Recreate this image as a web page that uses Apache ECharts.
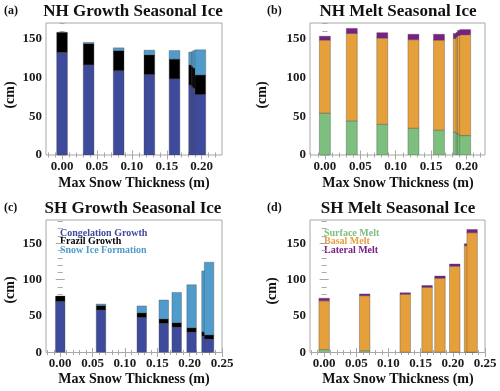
<!DOCTYPE html>
<html>
<head>
<meta charset="utf-8">
<script src="https://cdn.jsdelivr.net/npm/echarts@6/dist/echarts.min.js"></script>
<style>
html,body{margin:0;padding:0;background:#fff;}
#chart{width:500px;height:391px;}
</style>
</head>
<body>
<div id="chart"></div>
<script>
// NH runs: max snow thickness (m) and ice budget terms (cm)
var nhSnow        = [0.000, 0.038, 0.081, 0.125, 0.161, 0.189, 0.193, 0.195, 0.198];
var nhCongelation = [132, 116, 108.5, 103.5, 98, 90, 88, 86, 78];
var nhFrazil      = [26, 27.5, 26, 25.5, 25.5, 26, 26, 26, 25];
var nhSnowIce     = [0, 1.5, 3.5, 6, 11, 16.5, 19, 22.5, 32.5];
var nhSurface     = [54, 44, 39.5, 34.5, 32, 29.5, 28, 27, 25];
var nhBasal       = [94, 112.5, 111, 114, 116, 120.5, 124, 127, 130];
var nhLateral     = [5, 6.5, 7, 7, 7.5, 6.5, 6, 6.5, 6.5];

// SH runs
var shSnow        = [0.000, 0.063, 0.126, 0.160, 0.180, 0.203, 0.226, 0.230];
var shCongelation = [70, 58.5, 48, 40, 35, 28, 22.5, 18.5];
var shFrazil      = [7.5, 6, 6.5, 6, 6, 6, 6, 5.5];
var shSnowIce     = [0, 2, 9.5, 26, 41.5, 59, 83.5, 100];
var shSurface     = [4, 2.5, 0.5, 0.5, 0.5, 0.5, 0.5, 0.5];
var shBasal       = [67, 75.5, 79.5, 89, 101.5, 118, 146, 164];
var shLateral     = [3.5, 2.5, 2, 2.5, 3, 3, 3, 4.5];

// tick labels
var yTicks   = [0, 50, 100, 150];
var nhXTicks = [0, 0.05, 0.10, 0.15, 0.20];
var shXTicks = [0, 0.05, 0.10, 0.15, 0.20, 0.25];

var cCong='#3e4a9c', cFrazil='#000000', cSnowIce='#4f9ccc';
var cSurf='#7cbf7e', cBasal='#e5a03c', cLat='#7a1f86';
var serif='"Liberation Serif", "DejaVu Serif", serif';
var frame='#a8a8a8';

var panels=[
	{grid:{left:46,top:23,width:176,height:132}, x:[-0.023,0.229], y:[0,170], xt:nhXTicks, barW:10.7,
	 xs:nhSnow, s:[nhCongelation,nhFrazil,nhSnowIce], col:[cCong,cFrazil,cSnowIce]},
	{grid:{left:310,top:23,width:175,height:132}, x:[-0.021,0.226], y:[0,170], xt:nhXTicks, barW:11,
	 xs:nhSnow, s:[nhSurface,nhBasal,nhLateral], col:[cSurf,cBasal,cLat]},
	{grid:{left:46,top:220,width:176,height:132.5}, x:[-0.022,0.25], y:[0,182], xt:shXTicks, barW:9.5,
	 xs:shSnow, s:[shCongelation,shFrazil,shSnowIce], col:[cCong,cFrazil,cSnowIce]},
	{grid:{left:310,top:220,width:175,height:132.5}, x:[-0.022,0.25], y:[0,182], xt:shXTicks, barW:10.5,
	 xs:shSnow, s:[shSurface,shBasal,shLateral], col:[cSurf,cBasal,cLat]}
];

function steps(a,b,d){
	var out=[];
	var k0=Math.ceil(a/d-1e-9), k1=Math.floor(b/d+1e-9);
	for(var k=k0;k<=k1;k++){ out.push(+(k*d).toFixed(6)); }
	return out;
}

var grids=[], xAxes=[], yAxes=[], series=[];
panels.forEach(function(p,i){
	grids.push({left:p.grid.left,top:p.grid.top,width:p.grid.width,height:p.grid.height,
		show:true,borderColor:frame,borderWidth:1,backgroundColor:'transparent'});
	var xMinor=steps(p.x[0],p.x[1],0.01), yMinor=steps(p.y[0],p.y[1],10);
	var xIdx=xAxes.length, yIdx=yAxes.length;
	// bottom/top, major/minor
	[['bottom',true,p.xt,4.5],['bottom',false,xMinor,2.5],['top',false,p.xt,4.5],['top',false,xMinor,2.5]].forEach(function(a){
		xAxes.push({type:'value',gridIndex:i,position:a[0],min:p.x[0],max:p.x[1],
			axisLine:{show:false},splitLine:{show:false},
			axisTick:{show:true,inside:true,length:a[3],customValues:a[2],lineStyle:{color:frame,width:1}},
			axisLabel:{show:a[1],customValues:p.xt,margin:5,formatter:function(v){return v.toFixed(2);},
				fontFamily:serif,fontWeight:'bold',fontSize:13,color:'#1a1a1a'}});
	});
	[['left',true,yTicks,4.5],['left',false,yMinor,2.5],['right',false,yTicks,4.5],['right',false,yMinor,2.5]].forEach(function(a){
		yAxes.push({type:'value',gridIndex:i,position:a[0],min:p.y[0],max:p.y[1],
			axisLine:{show:false},splitLine:{show:false},
			axisTick:{show:true,inside:true,length:a[3],customValues:a[2],lineStyle:{color:frame,width:1}},
			axisLabel:{show:a[1],customValues:yTicks,margin:4,
				fontFamily:serif,fontWeight:'bold',fontSize:13,color:'#1a1a1a'}});
	});
	var rows=p.xs.map(function(x,j){ return [x,p.s[0][j],p.s[1][j],p.s[2][j]]; });
	series.push({
		type:'custom',xAxisIndex:xIdx,yAxisIndex:yIdx,clip:true,
		encode:{x:0,y:[1,2,3]},
		data:rows,
		renderItem:function(params,api){
			var x=api.value(0), base=0, kids=[], w=p.barW;
			for(var k=1;k<=3;k++){
				var v=api.value(k);
				if(!(v>0)) continue;
				var p0=api.coord([x,base]), p1=api.coord([x,base+v]);
				kids.push({type:'rect',
					shape:{x:p0[0]-w/2,y:p1[1],width:w,height:p0[1]-p1[1]},
					style:{fill:p.col[k-1],stroke:'rgba(70,70,70,0.6)',lineWidth:0.6}});
				base+=v;
			}
			return {type:'group',children:kids};
		}
	});
});

function txt(t,x,y,font,fill,align,rot){
	return {type:'text',x:x,y:y,rotation:rot||0,silent:true,
		style:{text:t,font:font,fill:fill||'#111',align:align||'center',verticalAlign:'middle'}};
}
var fTitle='bold 17px '+serif, fName='bold 14px '+serif, fTag='bold 12px '+serif, fLeg='bold 10px '+serif;
var graphics=[
	txt('(a)',4,11,fTag,'#111','left'),
	txt('(b)',267,11,fTag,'#111','left'),
	txt('(c)',4,208,fTag,'#111','left'),
	txt('(d)',267,208,fTag,'#111','left'),
	txt('NH Growth Seasonal Ice',133,12,fTitle),
	txt('NH Melt Seasonal Ice',398,12,fTitle),
	txt('SH Growth Seasonal Ice',133,209,fTitle),
	txt('SH Melt Seasonal Ice',398,209,fTitle),
	txt('Max Snow Thickness (m)',134,183,fName),
	txt('Max Snow Thickness (m)',398,183,fName),
	txt('Max Snow Thickness (m)',134,379,fName),
	txt('Max Snow Thickness (m)',398,379,fName),
	txt('(cm)',10,95,fName,'#111','center',Math.PI/2),
	txt('(cm)',262,95,fName,'#111','center',Math.PI/2),
	txt('(cm)',10,290,fName,'#111','center',Math.PI/2),
	txt('(cm)',272,291,fName,'#111','center',Math.PI/2),
	txt('Congelation Growth',60,233,fLeg,cCong,'left'),
	txt('Frazil Growth',60,241.5,fLeg,cFrazil,'left'),
	txt('Snow Ice Formation',60,250,fLeg,cSnowIce,'left'),
	txt('Surface Melt',324,233,fLeg,cSurf,'left'),
	txt('Basal Melt',324,241.5,fLeg,cBasal,'left'),
	txt('Lateral Melt',324,250,fLeg,cLat,'left')
];

var myChart=echarts.init(document.getElementById('chart'),null,{renderer:'canvas'});
myChart.setOption({
	animation:false,
	backgroundColor:'#ffffff',
	grid:grids,
	xAxis:xAxes,
	yAxis:yAxes,
	series:series,
	graphic:graphics
});
</script>
</body>
</html>
